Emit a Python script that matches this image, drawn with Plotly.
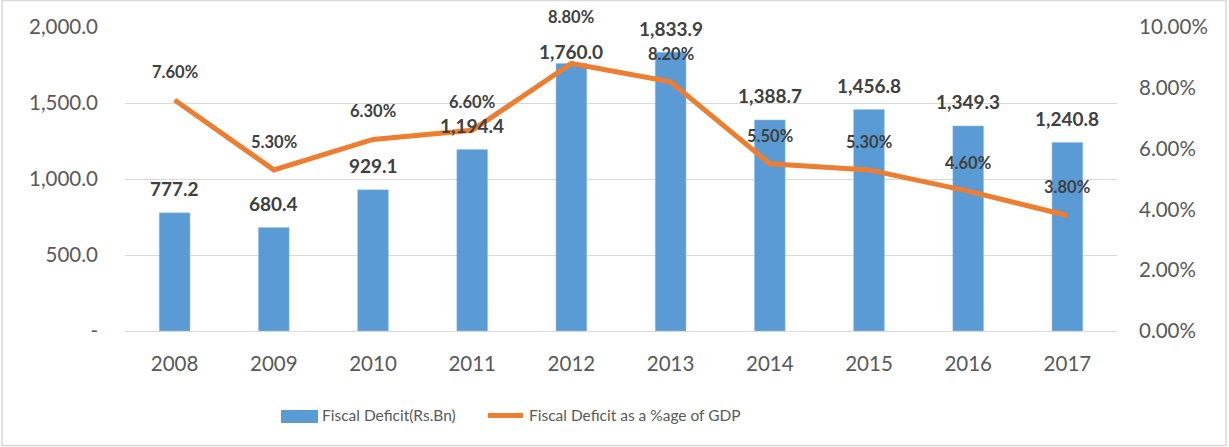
import plotly.graph_objects as go

years = ["2008", "2009", "2010", "2011", "2012", "2013", "2014", "2015", "2016", "2017"]
deficit_bn = [777.2, 680.4, 929.1, 1194.4, 1760.0, 1833.9, 1388.7, 1456.8, 1349.3, 1240.8]
deficit_pct = [0.076, 0.053, 0.063, 0.066, 0.088, 0.082, 0.055, 0.053, 0.046, 0.038]
left_ticks = [0, 500, 1000, 1500, 2000]
left_ticktext = ["-", "500.0", "1,000.0", "1,500.0", "2,000.0"]
bar_name = "Fiscal Deficit(Rs.Bn)"
line_name = "Fiscal Deficit as a %age of GDP"

BLUE = "#5B9BD5"
ORANGE = "#ED7D31"
GRID = "#D9D9D9"
AX = "#595959"
LBL = "#404040"
FONT = "Lato"

# plot area geometry in pixels
L, R, T, B = 125, 1117, 27, 331
W, H = R - L, B - T


def px(xp):
    return (xp - L) / W


def py(yp):
    return (B - yp) / H


fig = go.Figure()
fig.add_trace(go.Bar(
    x=years, y=deficit_bn, name=bar_name,
    marker=dict(color=BLUE, line=dict(color="#9DC3E6", width=0.5)),
    yaxis="y", showlegend=False,
))
fig.add_trace(go.Scatter(
    x=years, y=deficit_pct, name=line_name,
    mode="lines", line=dict(color=ORANGE, width=5),
    yaxis="y2", showlegend=False,
))

# label offsets (px) – special cases to avoid overlaps as in reference
bar_shift = {"2012": 12}
pct_shift = {"2012": 46}

annotations = []
for i, (yr, v) in enumerate(zip(years, deficit_bn)):
    annotations.append(dict(
        x=i, y=v, xref="x", yref="y", text=f"<b>{v:,.1f}</b>",
        showarrow=False, yshift=bar_shift.get(yr, 24), yanchor="middle",
        font=dict(family=FONT, size=19, color=LBL),
    ))
for i, (yr, p) in enumerate(zip(years, deficit_pct)):
    annotations.append(dict(
        x=i, y=p, xref="x", yref="y2", text=f"<b>{p*100:.2f}%</b>",
        showarrow=False, yshift=pct_shift.get(yr, 28), yanchor="middle",
        font=dict(family=FONT, size=16.5, color=LBL),
    ))

# custom legend (swatches + labels)
annotations += [
    dict(x=px(320), y=py(415), xref="paper", yref="paper", xanchor="left", yanchor="middle",
         text=bar_name, showarrow=False, font=dict(family=FONT, size=15.5, color=AX)),
    dict(x=px(527), y=py(415), xref="paper", yref="paper", xanchor="left", yanchor="middle",
         text=line_name, showarrow=False, font=dict(family=FONT, size=15.5, color=AX)),
]
shapes = [
    dict(type="rect", xref="paper", yref="paper",
         x0=(2 - L) / W, x1=(1226 - L) / W, y0=py(445.5), y1=py(0.5),
         line=dict(color=GRID, width=1.5), fillcolor="rgba(0,0,0,0)", layer="below"),
    dict(type="rect", xref="paper", yref="paper", x0=px(281), x1=px(318), y0=py(423), y1=py(410),
         line=dict(width=0), fillcolor=BLUE),
    dict(type="line", xref="paper", yref="paper", x0=px(488), x1=px(523), y0=py(415.5), y1=py(415.5),
         line=dict(color=ORANGE, width=5)),
]

fig.update_layout(
    width=1229, height=447,
    margin=dict(l=L, r=1229 - R, t=T, b=447 - B, autoexpand=False),
    paper_bgcolor="white", plot_bgcolor="white",
    font=dict(family=FONT, size=20, color=AX),
    bargap=0.69,
    showlegend=False,
    xaxis=dict(type="category", range=[-0.5, len(years) - 0.5], showgrid=False,
               showline=True, linecolor=GRID, linewidth=1,
               ticks="", ticklabelstandoff=14, tickfont=dict(size=20.5, color=AX)),
    yaxis=dict(range=[0, 2000], tickvals=left_ticks, ticktext=left_ticktext,
               showgrid=True, gridcolor=GRID, gridwidth=1, zeroline=False,
               ticklabelstandoff=26, tickfont=dict(size=20.5, color=AX)),
    yaxis2=dict(range=[0, 0.10], dtick=0.02, tickformat=".2%", overlaying="y",
                side="right", showgrid=False, zeroline=False,
                ticklabelstandoff=21, tickfont=dict(size=20.5, color=AX)),
    annotations=annotations,
    shapes=shapes,
)

fig.write_html("out.html", config={"displayModeBar": False},
               post_script="document.body.style.margin='0';")
